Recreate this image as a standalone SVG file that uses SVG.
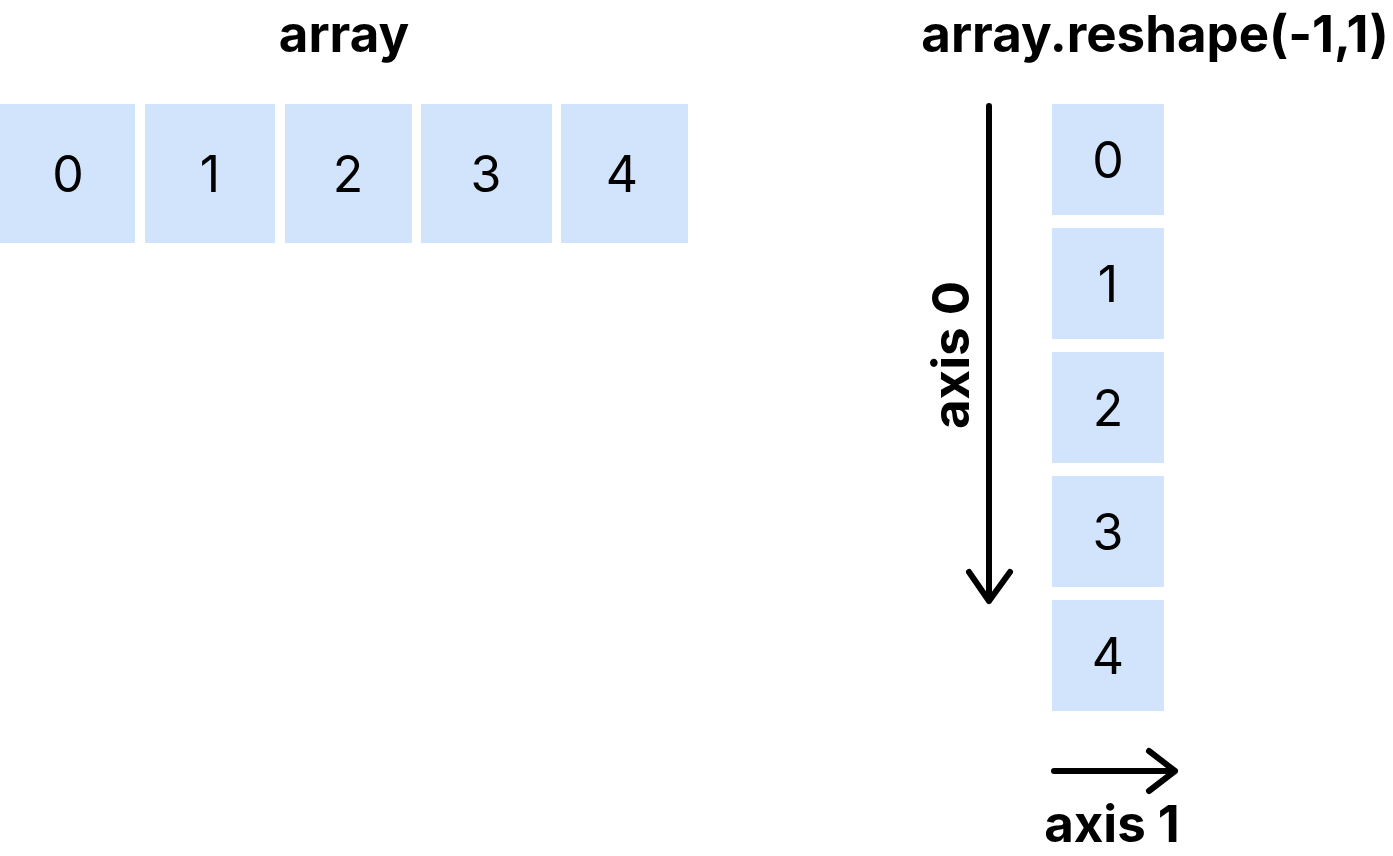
<svg xmlns="http://www.w3.org/2000/svg" width="1393" height="856" viewBox="0 0 1393 856">
<style>
.b{fill:#d2e3fc}
.n{font-family:Inter,"Liberation Sans",sans-serif;font-size:50px;text-anchor:middle;fill:#000}
.t{font-family:Inter,"Liberation Sans",sans-serif;font-size:51px;font-weight:bold;text-anchor:middle;fill:#000}
.a{fill:none;stroke:#000;stroke-width:6;stroke-linecap:round;stroke-linejoin:round}
</style>
<rect width="1393" height="856" fill="#fff"/>
<text class="t" x="344" y="52">array</text>
<text class="t" x="1155" y="52">array.reshape(-1,1)</text>
<g id="row">
<g id="r0"><rect class="b" x="0" y="104" width="135" height="139"/><text class="n" x="68" y="192">0</text></g>
<g id="r1"><rect class="b" x="145" y="104" width="130" height="139"/><text class="n" x="210" y="192">1</text></g>
<g id="r2"><rect class="b" x="285" y="104" width="127" height="139"/><text class="n" x="348" y="192">2</text></g>
<g id="r3"><rect class="b" x="421" y="104" width="131" height="139"/><text class="n" x="486" y="192">3</text></g>
<g id="r4"><rect class="b" x="561" y="104" width="127" height="139"/><text class="n" x="622" y="192">4</text></g>
</g>
<g id="col">
<g id="c0"><rect class="b" x="1052" y="104" width="112" height="111"/><text class="n" x="1108" y="178">0</text></g>
<g id="c1"><rect class="b" x="1052" y="228" width="112" height="111"/><text class="n" x="1108" y="302">1</text></g>
<g id="c2"><rect class="b" x="1052" y="352" width="112" height="111"/><text class="n" x="1108" y="426">2</text></g>
<g id="c3"><rect class="b" x="1052" y="476" width="112" height="111"/><text class="n" x="1108" y="550">3</text></g>
<g id="c4"><rect class="b" x="1052" y="600" width="112" height="111"/><text class="n" x="1108" y="674">4</text></g>
</g>
<g id="connectors">
<path class="a" d="M989 106 V601 M969 572 L989 601 L1010 572"/>
<path class="a" d="M1054 771 H1175 M1149 751 L1175 771 L1149 791"/>
</g>
<text class="t" transform="translate(969,355) rotate(-90)">axis 0</text>
<text class="t" x="1112" y="842">axis 1</text>
</svg>
